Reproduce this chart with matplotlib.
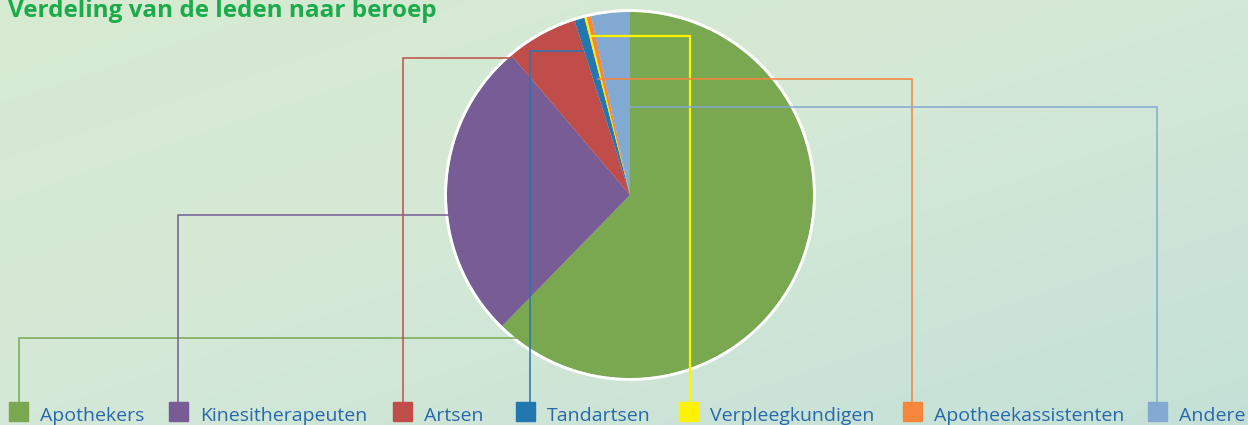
import matplotlib.pyplot as plt
import numpy as np
from matplotlib.patches import Circle, Rectangle

# --- Data ---
categories = ["Apothekers", "Kinesitherapeuten", "Artsen", "Tandartsen",
              "Verpleegkundigen", "Apotheekassistenten", "Andere"]
shares = [62.3, 26.5, 6.3, 0.9, 0.2, 0.4, 3.4]  # percent of members
colors = ["#79a851", "#775c95", "#c04d4a", "#2377b1", "#fff200", "#f5863b", "#82a9d2"]

# --- Layout (pixel coordinates, y downward) ---
W, H = 1248, 425
center = (630, 195)
radius = 183
# leader line: start point on the pie, horizontal row y, vertical drop x
lead_start_x = [516, 448, 512, 583, 592, 598, 631]
lead_y = [338, 215, 58, 51, 36, 79, 107]
lead_x = [19, 178, 403, 530, 690, 912, 1157]
marker_x = [9, 169, 393, 516, 679, 903, 1148]
marker_y, marker_size = 402, 19
text_color = "#2769ad"

fig = plt.figure(figsize=(W / 100, H / 100), dpi=100)
ax = fig.add_axes([0, 0, 1, 1])

# soft green/teal background
yy, xx = np.mgrid[0:1:60j, 0:1:160j]
c_tl = np.array([0.84, 0.92, 0.82])
c_br = np.array([0.77, 0.88, 0.84])
c_mid = np.array([0.83, 0.91, 0.84])
t = (xx * 0.5 + yy * 0.5)[..., None]
bg = np.where(t < 0.5, c_tl + (c_mid - c_tl) * t * 2, c_mid + (c_br - c_mid) * (t - 0.5) * 2)
ax.imshow(bg, extent=[0, W, H, 0], aspect="auto", zorder=0, interpolation="bicubic")

# pie (y axis inverted, so counterclock=True draws clockwise on screen)
ax.pie(shares, colors=colors, startangle=-90, counterclock=True,
       center=center, radius=radius, wedgeprops=dict(linewidth=0), frame=True)
for w in ax.patches:
    w.set_zorder(2)
ax.add_patch(Circle(center, radius + 1.5, fill=False, edgecolor="white", lw=2.0, zorder=3))

# leader lines and legend
for i, name in enumerate(categories):
    lw = 1.6 if colors[i] == "#fff200" else 1.1
    ax.plot([lead_start_x[i], lead_x[i], lead_x[i]], [lead_y[i], lead_y[i], marker_y],
            color=colors[i], lw=lw, zorder=4, solid_joinstyle="miter")
    ax.add_patch(Rectangle((marker_x[i], marker_y), marker_size, marker_size,
                           color=colors[i], zorder=5))
    ax.text(marker_x[i] + marker_size + 12, 421, name, color=text_color,
            fontsize=14, family="Open Sans", va="baseline", ha="left", zorder=5)

ax.text(8, 17, "Verdeling van de leden naar beroep", color="#1bab4b",
        fontsize=17.5, fontweight="bold", family="Open Sans", va="baseline", ha="left")

ax.set_xlim(0, W)
ax.set_ylim(H, 0)
ax.set_aspect("auto")
ax.axis("off")

plt.savefig("out.png", dpi=100)
